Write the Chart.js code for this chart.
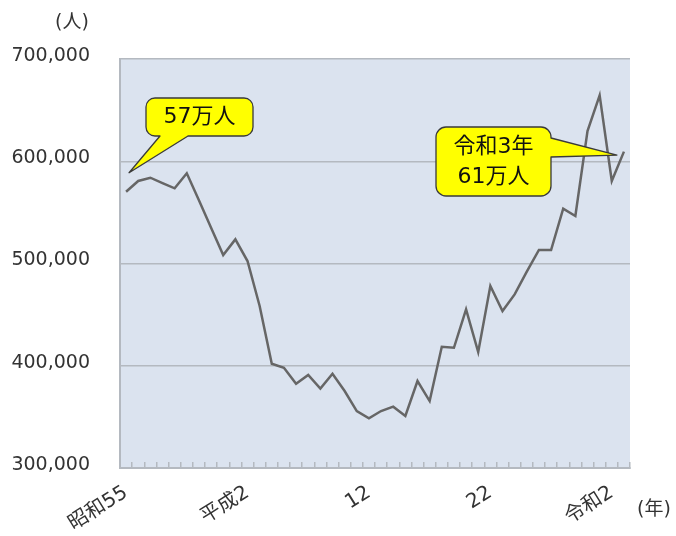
<!DOCTYPE html>
<html lang="ja">
<head>
<meta charset="utf-8">
<script src="https://cdn.jsdelivr.net/npm/chart.js@4.4.1/dist/chart.umd.min.js"></script>
<style>
  html, body { margin: 0; padding: 0; background: #fff; }
</style>
</head>
<body>
<canvas id="visitorChart" width="676" height="536"></canvas>
<script>
// =====================
// DATA
// =====================
const years = [1980, 1981, 1982, 1983, 1984, 1985, 1986, 1987, 1988, 1989,
  1990, 1991, 1992, 1993, 1994, 1995, 1996, 1997, 1998, 1999,
  2000, 2001, 2002, 2003, 2004, 2005, 2006, 2007, 2008, 2009,
  2010, 2011, 2012, 2013, 2014, 2015, 2016, 2017, 2018, 2019,
  2020, 2021];
const visitors = [570200, 580700, 583900, 578700, 573500, 588200, 561800, 535000, 508300, 523600,
  502400, 458400, 402000, 398100, 382400, 391000, 377600, 392200, 375300, 355700,
  348600, 355700, 360000, 350900, 385100, 365500, 418600, 417600, 455200, 413400,
  478000, 453500, 469800, 492000, 513200, 513200, 553600, 546500, 629600, 664500,
  580700, 609400];
const labeledYears = [1980, 1990, 2000, 2010, 2020];
const yearLabels = ["昭和55", "平成2", "12", "22", "令和2"];
const yTicks = [300000, 400000, 500000, 600000, 700000];
const calloutTexts = [["57万人"], ["令和3年", "61万人"]];

const FONT = '"DejaVu Sans", "Noto Sans CJK JP", sans-serif';
const TEXT_COLOR = "#333333";
const GRID_COLOR = "#b4b9c0";

// =====================
// PLUGINS
// =====================
const plotBackground = {
  id: "plotBackground",
  beforeDraw(chart) {
    const { ctx, chartArea: a } = chart;
    ctx.save();
    ctx.fillStyle = "#dbe3ef";
    ctx.fillRect(a.left, a.top, a.right - a.left, a.bottom - a.top);
    ctx.restore();
  }
};

// rounded box with a pointer on one side
function bubblePath(ctx, b, side, p1, p2, tip) {
  const { x, y, w, h, r } = b;
  ctx.beginPath();
  ctx.moveTo(x + r, y);
  ctx.lineTo(x + w - r, y);
  ctx.arcTo(x + w, y, x + w, y + r, r);
  if (side === "right") {
    ctx.lineTo(x + w, p1);
    ctx.lineTo(tip.x, tip.y);
    ctx.lineTo(x + w, p2);
  }
  ctx.lineTo(x + w, y + h - r);
  ctx.arcTo(x + w, y + h, x + w - r, y + h, r);
  if (side === "bottom") {
    ctx.lineTo(p2, y + h);
    ctx.lineTo(tip.x, tip.y);
    ctx.lineTo(p1, y + h);
  }
  ctx.lineTo(x + r, y + h);
  ctx.arcTo(x, y + h, x, y + h - r, r);
  ctx.lineTo(x, y + r);
  ctx.arcTo(x, y, x + r, y, r);
  ctx.closePath();
}

const callouts = {
  id: "callouts",
  afterDatasetsDraw(chart) {
    const { ctx, scales } = chart;
    const first = { x: scales.x.getPixelForValue(0), y: scales.y.getPixelForValue(visitors[0]) };
    const lastIdx = visitors.length - 1;
    const last = { x: scales.x.getPixelForValue(lastIdx), y: scales.y.getPixelForValue(visitors[lastIdx]) };

    const items = [
      { box: { x: 146, y: 98, w: 107, h: 38, r: 9 }, side: "bottom", p1: 160, p2: 188,
        tip: { x: first.x + 3, y: first.y - 19 }, lines: calloutTexts[0], lineY: [117] },
      { box: { x: 436, y: 127, w: 115, h: 69, r: 10 }, side: "right", p1: 138, p2: 157,
        tip: { x: last.x - 7, y: last.y + 3.5 }, lines: calloutTexts[1], lineY: [147, 177] }
    ];

    ctx.save();
    items.forEach(it => {
      bubblePath(ctx, it.box, it.side, it.p1, it.p2, it.tip);
      ctx.fillStyle = "#ffff00";
      ctx.fill();
      ctx.strokeStyle = "#3a3a3a";
      ctx.lineWidth = 1.3;
      ctx.lineJoin = "round";
      ctx.stroke();
      ctx.fillStyle = "#111111";
      ctx.font = "22px " + FONT;
      ctx.textAlign = "center";
      ctx.textBaseline = "middle";
      it.lines.forEach((t, i) => {
        ctx.fillText(t, it.box.x + it.box.w / 2, it.lineY[i]);
      });
    });
    ctx.restore();
  }
};

const unitLabels = {
  id: "unitLabels",
  afterDraw(chart) {
    const { ctx } = chart;
    ctx.save();
    ctx.fillStyle = TEXT_COLOR;
    ctx.font = "19px " + FONT;
    ctx.textBaseline = "middle";
    ctx.textAlign = "left";
    ctx.fillText("(人)", 55, 23);
    ctx.fillText("(年)", 637, 510);
    ctx.restore();
  }
};

// =====================
// CHART
// =====================
const ctx = document.getElementById("visitorChart");
new Chart(ctx, {
  type: "line",
  data: {
    labels: years,
    datasets: [{
      label: "人数",
      data: visitors,
      borderColor: "#666666",
      borderWidth: 2.5,
      pointRadius: 0,
      tension: 0,
      fill: false
    }]
  },
  options: {
    responsive: false,
    animation: false,
    layout: { padding: { top: 59, right: 46, left: 0, bottom: 0 } },
    plugins: {
      legend: { display: false },
      tooltip: { enabled: false }
    },
    scales: {
      x: {
        type: "category",
        offset: true,
        grid: {
          offset: true,
          drawOnChartArea: false,
          drawTicks: true,
          tickLength: -6,
          color: GRID_COLOR,
          lineWidth: 1.5
        },
        border: { display: true, color: GRID_COLOR, width: 2 },
        ticks: {
          autoSkip: false,
          minRotation: 32,
          maxRotation: 32,
          padding: 19,
          color: TEXT_COLOR,
          font: { family: FONT, size: 20 },
          callback: function (value, index) {
            const k = labeledYears.indexOf(years[index]);
            return k >= 0 ? yearLabels[k] : "";
          }
        },
        afterFit: function (scale) { scale.height = 68; }
      },
      y: {
        min: yTicks[0],
        max: yTicks[yTicks.length - 1],
        afterBuildTicks: function (scale) {
          scale.ticks = yTicks.map(v => ({ value: v }));
        },
        grid: {
          drawTicks: false,
          color: GRID_COLOR,
          lineWidth: 1.5
        },
        border: { display: true, color: GRID_COLOR, width: 2 },
        ticks: {
          padding: 30,
          labelOffset: -3,
          color: TEXT_COLOR,
          font: { family: FONT, size: 19 },
          callback: function (value) { return value.toLocaleString("en-US"); }
        },
        afterFit: function (scale) { scale.width = 120; }
      }
    }
  },
  plugins: [plotBackground, callouts, unitLabels]
});
</script>
</body>
</html>
